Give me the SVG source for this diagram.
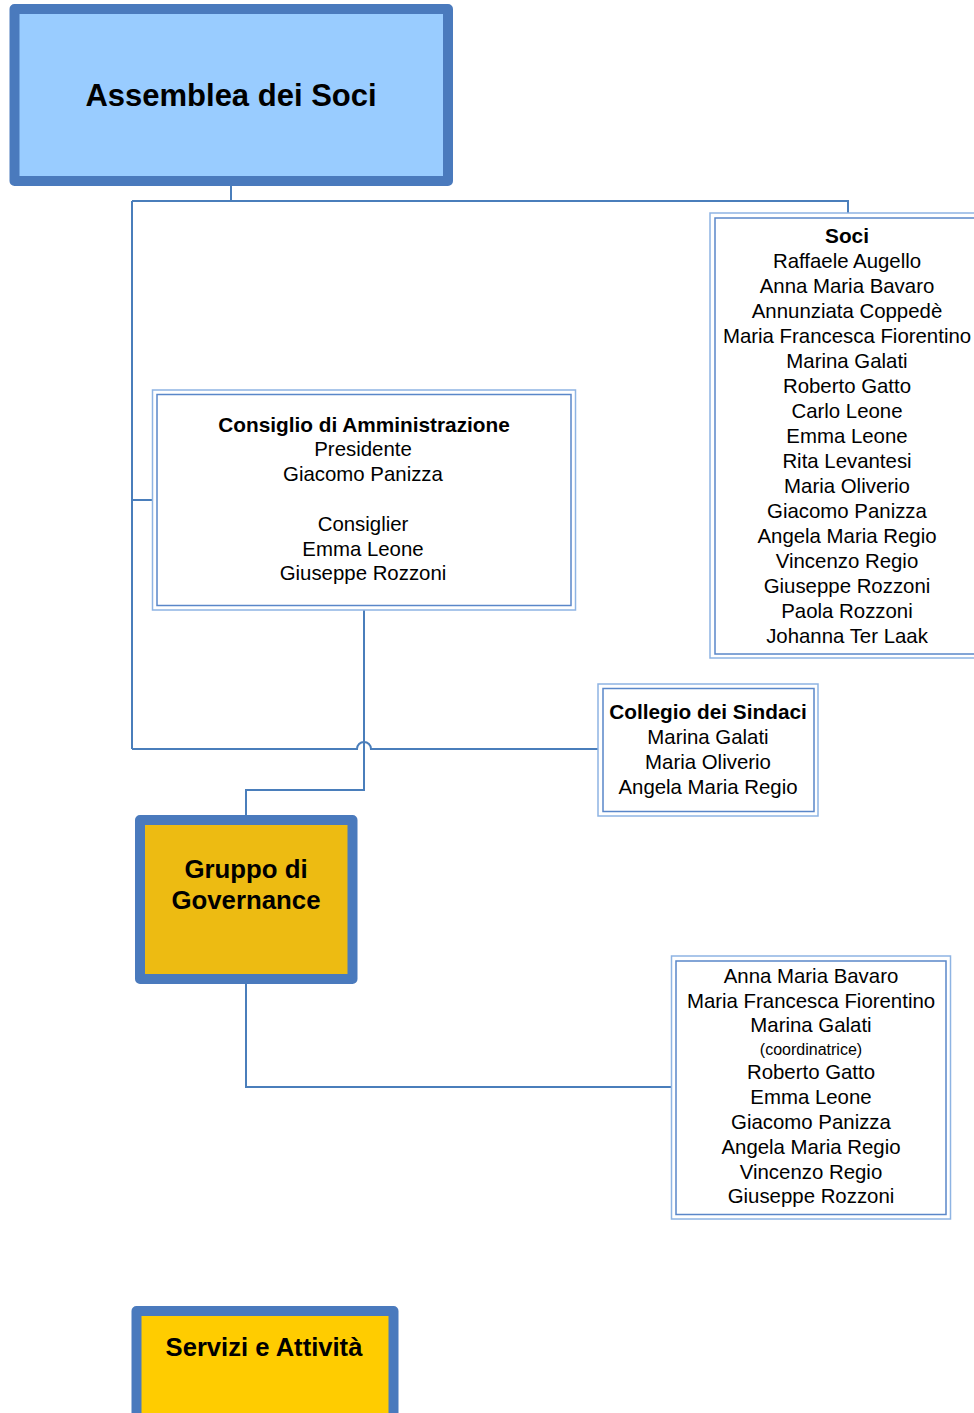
<svg xmlns="http://www.w3.org/2000/svg" width="974" height="1413" viewBox="0 0 974 1413">
<style>
.bg{fill:#ffffff}
.thick{stroke:#4A7ABD;stroke-width:10;stroke-linejoin:round}
.outer{fill:#ffffff;stroke:#8EB4E3;stroke-width:1.5}
.inner{fill:none;stroke:#5A87C9;stroke-width:1.5}
.conn{fill:none;stroke:#4A7EBB;stroke-width:2}
text{font-family:"Liberation Sans",Arial,sans-serif;fill:#000;text-anchor:middle}
.b{font-weight:bold}
.t{font-size:20.4px}
.tb{font-size:20.8px;font-weight:bold}
.s{font-size:16px}
</style>
<rect class="bg" x="0" y="0" width="974" height="1413"/>
<g id="connectors">
<path class="conn" d="M231 186 V201 M132 201 H848 V213"/>
<path class="conn" d="M132 201 V749 M132 500 H152"/>
<path class="conn" d="M132 749 H357 A7 7 0 0 1 371 749 H598"/>
<path class="conn" d="M364 610 V790 H246 V815"/>
<path class="conn" d="M246 984 V1087 H672"/>
</g>
<g id="assemblea">
<rect class="thick" x="14.5" y="9" width="433.5" height="172" fill="#99CCFF"/>
<text class="b" x="231" y="106" font-size="31">Assemblea dei Soci</text>
</g>
<g id="soci">
<rect class="outer" x="710" y="213" width="270" height="445"/>
<rect class="inner" x="715" y="218" width="270" height="436"/>
<text class="t" x="847" y="243"><tspan class="tb">Soci</tspan><tspan x="847" dy="25">Raffaele Augello</tspan><tspan x="847" dy="25">Anna Maria Bavaro</tspan><tspan x="847" dy="25">Annunziata Coppedè</tspan><tspan x="847" dy="25">Maria Francesca Fiorentino</tspan><tspan x="847" dy="25">Marina Galati</tspan><tspan x="847" dy="25">Roberto Gatto</tspan><tspan x="847" dy="25">Carlo Leone</tspan><tspan x="847" dy="25">Emma Leone</tspan><tspan x="847" dy="25">Rita Levantesi</tspan><tspan x="847" dy="25">Maria Oliverio</tspan><tspan x="847" dy="25">Giacomo Panizza</tspan><tspan x="847" dy="25">Angela Maria Regio</tspan><tspan x="847" dy="25">Vincenzo Regio</tspan><tspan x="847" dy="25">Giuseppe Rozzoni</tspan><tspan x="847" dy="25">Paola Rozzoni</tspan><tspan x="847" dy="25">Johanna Ter Laak</tspan></text>
</g>
<g id="consiglio">
<rect class="outer" x="152.5" y="390" width="423" height="220"/>
<rect class="inner" x="157" y="394.5" width="414" height="211"/>
<text class="tb" x="364" y="432">Consiglio di Amministrazione</text>
<text class="t" x="363" y="456">Presidente</text>
<text class="t" x="363" y="481">Giacomo Panizza</text>
<text class="t" x="363" y="531">Consiglier</text>
<text class="t" x="363" y="556">Emma Leone</text>
<text class="t" x="363" y="580">Giuseppe Rozzoni</text>
</g>
<g id="collegio">
<rect class="outer" x="598" y="684" width="220" height="132"/>
<rect class="inner" x="603" y="688.5" width="211" height="123"/>
<text class="tb" x="708" y="719">Collegio dei Sindaci</text>
<text class="t" x="708" y="744">Marina Galati</text>
<text class="t" x="708" y="769">Maria Oliverio</text>
<text class="t" x="708" y="794">Angela Maria Regio</text>
</g>
<g id="gruppo">
<rect class="thick" x="140" y="820" width="212.5" height="159" fill="#EDBB12"/>
<text class="b" x="246" y="878" font-size="25.8">Gruppo di</text>
<text class="b" x="246" y="909" font-size="25.8">Governance</text>
</g>
<g id="gruppo-membri">
<rect class="outer" x="671.5" y="956" width="279" height="263"/>
<rect class="inner" x="676" y="961" width="270" height="253.5"/>
<text class="t" x="811" y="983">Anna Maria Bavaro</text>
<text class="t" x="811" y="1008">Maria Francesca Fiorentino</text>
<text class="t" x="811" y="1032">Marina Galati</text>
<text class="s" x="811" y="1055">(coordinatrice)</text>
<text class="t" x="811" y="1079">Roberto Gatto</text>
<text class="t" x="811" y="1104">Emma Leone</text>
<text class="t" x="811" y="1129">Giacomo Panizza</text>
<text class="t" x="811" y="1154">Angela Maria Regio</text>
<text class="t" x="811" y="1179">Vincenzo Regio</text>
<text class="t" x="811" y="1203">Giuseppe Rozzoni</text>
</g>
<g id="servizi">
<rect class="thick" x="136.5" y="1311" width="257" height="120" fill="#FFCC00"/>
<text class="b" x="264" y="1356" font-size="25.6">Servizi e Attività</text>
</g>
</svg>
